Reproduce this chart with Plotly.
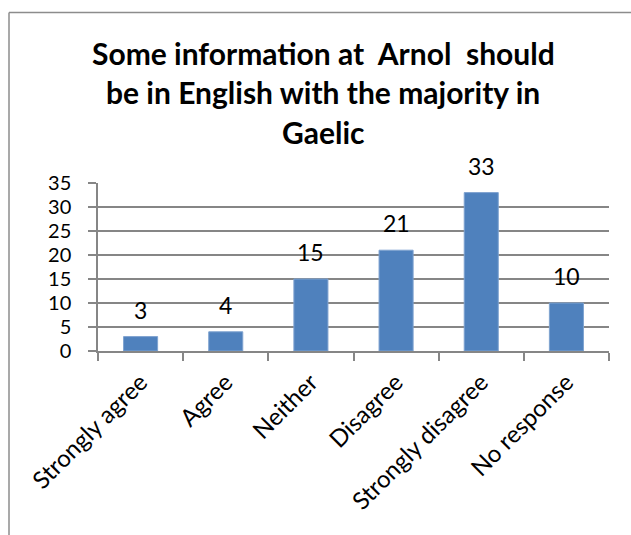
import plotly.graph_objects as go

categories = ["Strongly agree", "Agree", "Neither", "Disagree", "Strongly disagree", "No response"]
values = [3, 4, 15, 21, 33, 10]
y_ticks = [0, 5, 10, 15, 20, 25, 30, 35]
title_lines = ["Some information at  Arnol  should",
               "be in English with the majority in",
               "Gaelic"]

W, H = 631, 535
L, R, T, B = 98, 22, 183, 184
PW, PH = W - L - R, H - T - B

def px_x(px):
    return (px - L) / PW

def px_y(py):
    return (H - B - py) / PH

FONT = "Lato"
GRID = "#868686"

fig = go.Figure()
fig.add_trace(go.Bar(
    x=categories, y=values, width=0.4,
    marker=dict(color="#4F81BD", line=dict(color="#7FA3D0", width=1)),
    hoverinfo="x+y",
))

annotations = []
for c, v in zip(categories, values):
    annotations.append(dict(x=c, y=v, xref="x", yref="y", text=str(v), showarrow=False,
                            yanchor="bottom", yshift=11,
                            font=dict(family=FONT, size=23, color="#000")))

title_y = [53, 92, 132]
for line, yy in zip(title_lines, title_y):
    annotations.append(dict(x=px_x(323), y=px_y(yy), xref="paper", yref="paper",
                            text="<b>" + line + "</b>", showarrow=False,
                            xanchor="center", yanchor="middle",
                            font=dict(family=FONT, size=30, color="#000")))

shapes = [
    dict(type="line", xref="paper", yref="paper", x0=px_x(9), x1=px_x(640), y0=px_y(12.5), y1=px_y(12.5),
         line=dict(color="#8C8C8C", width=1.5)),
    dict(type="line", xref="paper", yref="paper", x0=px_x(9), x1=px_x(9), y0=px_y(12.5), y1=px_y(545),
         line=dict(color="#8C8C8C", width=1.5)),
]

fig.update_layout(
    width=W, height=H,
    margin=dict(l=L, r=R, t=T, b=B, pad=0),
    paper_bgcolor="white", plot_bgcolor="white",
    showlegend=False,
    font=dict(family=FONT, size=20, color="#000"),
    annotations=annotations,
    shapes=shapes,
    bargap=0.6,
)
fig.update_xaxes(
    range=[-0.5, 5.5], tickangle=-45, tickson="boundaries",
    ticks="outside", ticklen=8, tickcolor=GRID, tickwidth=1.5,
    showline=True, linecolor=GRID, linewidth=1.5, showgrid=False,
    ticklabelstandoff=6,
    tickfont=dict(family=FONT, size=24, color="#000"),
)
fig.update_yaxes(
    range=[0, 35], tickvals=y_ticks, ticks="outside", ticklen=8, tickcolor=GRID, tickwidth=1.5,
    showline=True, linecolor=GRID, linewidth=1.5,
    showgrid=True, gridcolor=GRID, gridwidth=1.5, zeroline=False,
    ticklabelstandoff=13,
    tickfont=dict(family=FONT, size=20, color="#000"),
)

fig.write_html("out.html")
